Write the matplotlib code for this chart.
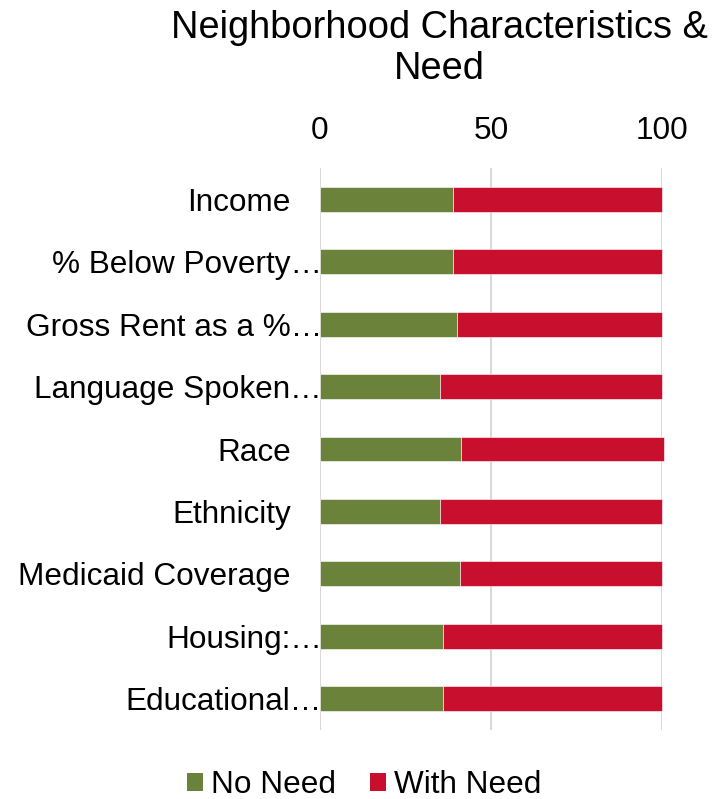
import matplotlib
matplotlib.use("Agg")
import matplotlib.pyplot as plt
from matplotlib.patches import Patch
from matplotlib.transforms import ScaledTranslation

plt.rcParams['font.family'] = ['Liberation Sans', 'DejaVu Sans']

categories = ["Income", "% Below Poverty…", "Gross Rent as a %…", "Language Spoken…",
              "Race", "Ethnicity", "Medicaid Coverage", "Housing:…", "Educational…"]
truncated = [False, True, True, True, False, False, False, True, True]
no_need = [39, 39, 40, 35, 41.1, 35, 41, 36, 36]
with_need = [61, 61, 60, 65, 59.5, 65, 59, 64, 64]
x_ticks = [0, 50, 100]

green = "#6A823A"
red = "#C8102E"
fs = 22.7
title_fs = 27.4

fig = plt.figure(figsize=(7.2, 7.99), dpi=100)
ax = fig.add_axes([320/720, 1-730/799, 342/720, 562/799])

y = list(range(len(categories)))
ax.barh(y, no_need, height=0.4, color=green, edgecolor="white", linewidth=0.4,
        zorder=3, clip_on=False)
ax.barh(y, with_need, left=no_need, height=0.4, color=red, edgecolor="white", linewidth=0.4,
        zorder=3, clip_on=False)

ax.set_xlim(0, 100)
ax.set_ylim(len(categories) - 0.5, -0.5)
ax.set_xticks(x_ticks)
ax.xaxis.tick_top()
ax.tick_params(axis='x', length=0, pad=16, labelsize=fs)
ax.set_yticks(y)
ax.set_yticklabels(categories)
ax.tick_params(axis='y', length=0, pad=21, labelsize=fs)
ax.grid(axis='x', color="#D9D9D9", linewidth=1.5, zorder=0)
for s in ax.spines.values():
    s.set_visible(False)

# truncated labels sit flush against the axis
shift = ScaledTranslation(31/100, 0, fig.dpi_scale_trans)
for lab, t in zip(ax.get_yticklabels(), truncated):
    if t:
        lab.set_transform(lab.get_transform() + shift)

fig.text(439/720, 1-28/799, "Neighborhood Characteristics &", ha='center', va='center', fontsize=title_fs)
fig.text(439/720, 1-69/799, "Need", ha='center', va='center', fontsize=title_fs)

handles = [Patch(facecolor=green, label="No Need"), Patch(facecolor=red, label="With Need")]
fig.legend(handles=handles, loc='center', bbox_to_anchor=(364/720, 1-785/799), ncol=2,
           frameon=False, fontsize=fs, handlelength=0.52, handleheight=0.52,
           handletextpad=0.25, columnspacing=1.06, borderpad=0, borderaxespad=0)

fig.savefig("out.png", dpi=100)
